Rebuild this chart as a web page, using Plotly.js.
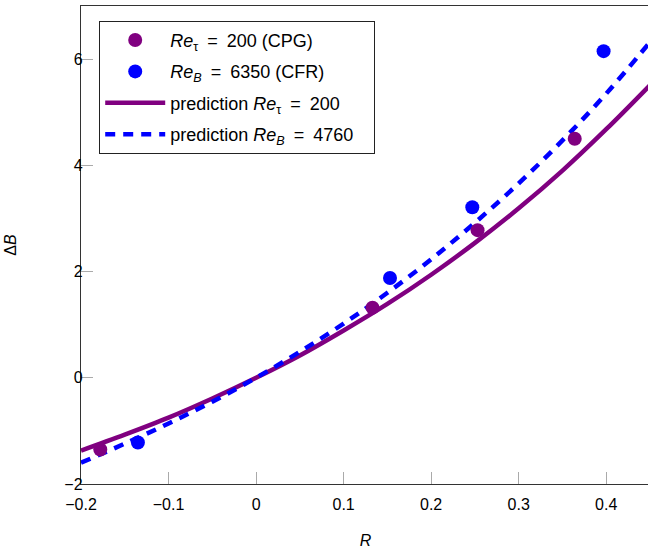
<!DOCTYPE html>
<html><head><meta charset="utf-8">
<script src="https://cdn.plot.ly/plotly-3.0.1.min.js"></script>
<style>html,body{margin:0;padding:0;overflow:hidden;background:#fff}#plot{width:651px;height:549px}</style>
</head><body><div id="plot"></div>
<script>
// Data
const cpgR = [-0.178, 0.133, 0.253, 0.364];
const cpgDB = [-1.35, 1.32, 2.78, 4.50];
const cfrR = [-0.135, 0.153, 0.247, 0.397];
const cfrDB = [-1.22, 1.88, 3.21, 6.15];
const predR = [-0.2, -0.15, -0.1, -0.05, 0, 0.05, 0.1, 0.15, 0.2, 0.25, 0.3, 0.35, 0.4, 0.45];
const predTau200 = [-1.37, -1.07, -0.75, -0.39, 0, 0.42, 0.89, 1.39, 1.94, 2.54, 3.19, 3.90, 4.68, 5.51];
const predB4760 = [-1.60, -1.24, -0.86, -0.45, 0, 0.49, 1.02, 1.60, 2.23, 2.92, 3.66, 4.47, 5.35, 6.32];
const xTicks = [-0.2, -0.1, 0, 0.1, 0.2, 0.3, 0.4];
const yTicks = [-2, 0, 2, 4, 6];

const font = "Liberation Sans, Arial, Helvetica, sans-serif";
const EQ = '\u2002=\u2002';
const PAD = '\u00a0\u00a0\u00a0';
const traces = [
  {x: predR, y: predTau200, mode: 'lines', line: {color: '#800080', width: 4.5, shape: 'spline'},
   name: 'prediction <i>Re</i><sub>τ</sub>' + EQ + '200' + PAD, legendrank: 3, legendgroup: 'c'},
  {x: predR, y: predB4760, mode: 'lines', line: {color: '#0000ff', width: 4.5, dash: '10px,8px', shape: 'spline'},
   name: 'prediction <i>Re<sub>B</sub></i>' + EQ + '4760' + PAD, legendrank: 4, legendgroup: 'd'},
  {x: cpgR, y: cpgDB, mode: 'markers', marker: {color: '#800080', size: 14},
   name: '<i>Re</i><sub>τ</sub>' + EQ + '200 (CPG)', legendrank: 1, legendgroup: 'a'},
  {x: cfrR, y: cfrDB, mode: 'markers', marker: {color: '#0000ff', size: 14},
   name: '<i>Re<sub>B</sub></i>' + EQ + '6350 (CFR)', legendrank: 2, legendgroup: 'b'}
];
const axisCommon = {showgrid: false, zeroline: false, showline: true, mirror: true,
  linecolor: '#333', linewidth: 1.2, ticks: 'inside', ticklen: 12, tickcolor: '#aaa', tickwidth: 1,
  tickfont: {family: font, size: 16, color: '#000'}};
const layout = {
  width: 651, height: 549,
  margin: {l: 81, r: 1, t: 6, b: 65},
  paper_bgcolor: '#fff', plot_bgcolor: '#fff',
  font: {family: font, size: 16, color: '#000'},
  xaxis: Object.assign({}, axisCommon, {range: [-0.2, 0.45], tickvals: xTicks, ticktext: xTicks.map(v => v < 0 ? '−' + Math.abs(v) : String(v)),
    ticklabelstandoff: 6,
    title: {text: '<i>R</i>', font: {family: font, size: 16}, standoff: 22}}),
  yaxis: Object.assign({}, axisCommon, {range: [-2, 7], tickvals: yTicks, ticktext: yTicks.map(v => v < 0 ? '−' + Math.abs(v) : String(v)),
    ticklabelstandoff: -6,
    title: {text: 'Δ<i>B</i>', font: {family: font, size: 16}, standoff: 43}}),
  showlegend: true,
  legend: {x: 0.032, y: 0.969, xanchor: 'left', yanchor: 'top', bgcolor: '#fff', bordercolor: '#222', borderwidth: 1,
    font: {family: font, size: 18}, tracegroupgap: 5, traceorder: 'grouped', itemwidth: 60}
};
Plotly.newPlot('plot', traces, layout, {displayModeBar: false, staticPlot: true});
</script></body></html>
